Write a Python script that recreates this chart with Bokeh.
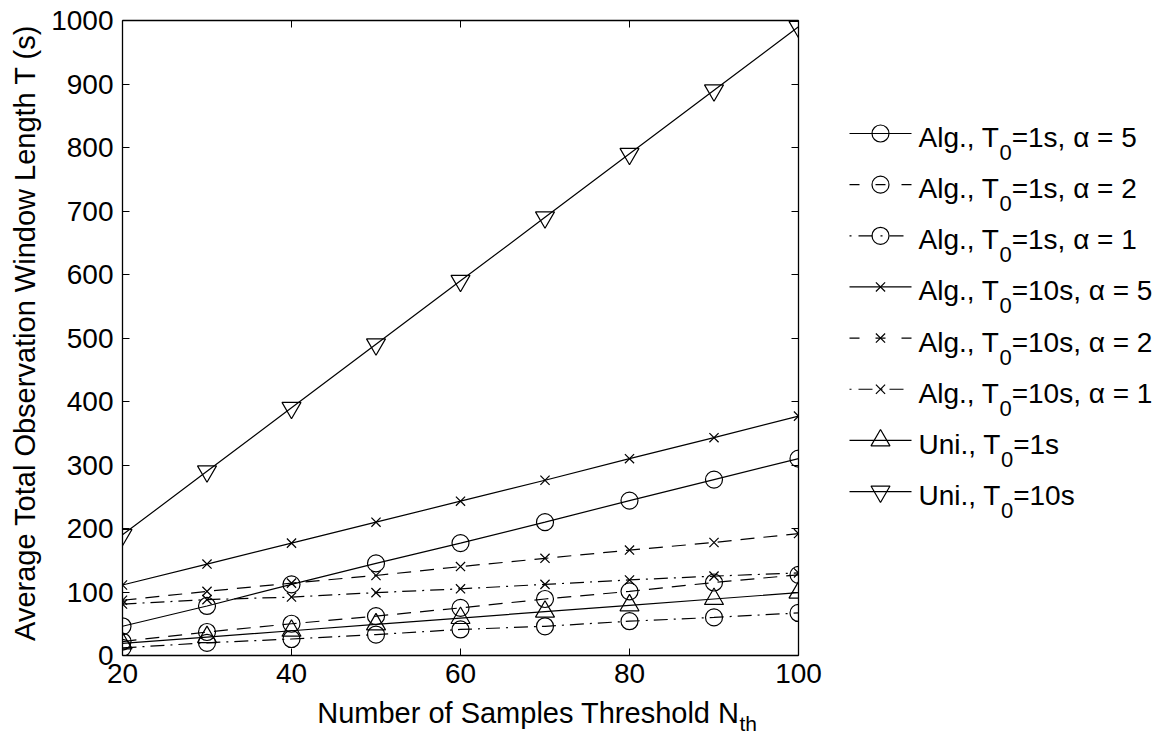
import math

from bokeh.core.properties import value
from bokeh.embed import file_html
from bokeh.layouts import column, row
from bokeh.models import FixedTicker, LinearAxis, Range1d
from bokeh.plotting import figure
from bokeh.resources import INLINE

# ---- data -------------------------------------------------------------
n_th = [20, 30, 40, 50, 60, 70, 80, 90, 100]

alg_t1_a5 = [46, 78, 112, 145, 177, 210, 244, 277, 310]
alg_t1_a2 = [22, 37, 50, 62, 75, 89, 101, 115, 127]
alg_t1_a1 = [12, 20, 26, 33, 41, 46, 54, 60, 67]
alg_t10_a5 = [111, 144, 177, 210, 243, 276, 310, 343, 377]
alg_t10_a2 = [87, 101, 114, 126, 140, 153, 166, 178, 192]
alg_t10_a1 = [81, 88, 92, 99, 105, 112, 119, 125, 130]
uni_t1 = [19, 29, 39, 49, 59, 69, 79, 89, 99]
uni_t10 = [190, 290, 390, 490, 590, 690, 790, 890, 990]

x_ticks = [20, 40, 60, 80, 100]
y_ticks = [0, 100, 200, 300, 400, 500, 600, 700, 800, 900, 1000]

x_label = ("Number of Samples Threshold N", "th")
y_label = "Average Total Observation Window Length T (s)"

# legend text: (before subscript, subscript, after subscript)
legend_text = [
    ("Alg., T", "0", "=1s, \u03b1 = 5"),
    ("Alg., T", "0", "=1s, \u03b1 = 2"),
    ("Alg., T", "0", "=1s, \u03b1 = 1"),
    ("Alg., T", "0", "=10s, \u03b1 = 5"),
    ("Alg., T", "0", "=10s, \u03b1 = 2"),
    ("Alg., T", "0", "=10s, \u03b1 = 1"),
    ("Uni., T", "0", "=1s"),
    ("Uni., T", "0", "=10s"),
]
series_values = [alg_t1_a5, alg_t1_a2, alg_t1_a1, alg_t10_a5,
                 alg_t10_a2, alg_t10_a1, uni_t1, uni_t10]

# ---- styles -----------------------------------------------------------
FONT = "Liberation Sans"
LW = 1.2
DASHED, DASHDOT = "14 9", "14 6 2 6"
LEG_DASHED, LEG_DASHDOT = "10 16", "2 7 14 8"
styles = [  # (plot dash, legend dash, marker, size)
    ("solid", "solid", "circle", 17),
    (DASHED, LEG_DASHED, "circle", 17),
    (DASHDOT, LEG_DASHDOT, "circle", 17),
    ("solid", "solid", "x", 13),
    (DASHED, LEG_DASHED, "x", 13),
    (DASHDOT, LEG_DASHDOT, "x", 13),
    ("solid", "solid", "triangle", 19),
    ("solid", "solid", "inverted_triangle", 19),
]

# Helvetica/Arial advance widths (1/1000 em), used to place subscripts
ADV = {" ": 278, "(": 333, ")": 333, ",": 278, ".": 278, "=": 584,
       "A": 667, "L": 556, "N": 722, "O": 778, "S": 667, "T": 611,
       "U": 722, "W": 944, "a": 556, "b": 556, "d": 556, "e": 556,
       "f": 278, "g": 556, "h": 556, "i": 222, "l": 222, "m": 833,
       "n": 556, "o": 556, "p": 556, "r": 333, "s": 500, "t": 278,
       "u": 556, "v": 500, "w": 722}


def text_width(s, size):
    return sum(ADV.get(c, 556) for c in s) * size / 1000.0


def blank_panel(width, height, xr, yr):
    """A bare figure whose data coordinates are page pixels."""
    f = figure(frame_width=width, frame_height=height, min_border=0,
               x_range=Range1d(*xr), y_range=Range1d(*yr),
               x_axis_type=None, y_axis_type=None,
               output_backend="svg", toolbar_location=None)
    f.outline_line_color = None
    f.background_fill_color = "white"
    f.border_fill_color = "white"
    return f


# ---- main plot --------------------------------------------------------
p = figure(frame_width=676, frame_height=635,
           min_border_left=77, min_border_right=32,
           min_border_top=20, min_border_bottom=42,
           x_range=Range1d(20, 100), y_range=Range1d(0, 1000),
           output_backend="svg", toolbar_location=None)
p.grid.visible = False
p.outline_line_color = None
p.background_fill_color = "white"
p.border_fill_color = "white"

p.xaxis.ticker = FixedTicker(ticks=x_ticks)
p.yaxis.ticker = FixedTicker(ticks=y_ticks)
p.xaxis.major_label_standoff = 8
p.yaxis.major_label_standoff = 9
for ax in (p.xaxis[0], p.yaxis[0]):
    ax.major_tick_in = 7
    ax.major_tick_out = 0
    ax.minor_tick_in = 0
    ax.minor_tick_out = 0
    ax.axis_line_width = 1.3
    ax.major_tick_line_width = 1
    ax.major_label_text_font = FONT
    ax.major_label_text_font_size = "28px"
    ax.major_label_text_color = "black"

# box axes on top and right, ticks only
for ticks, side in ((x_ticks, "above"), (y_ticks, "right")):
    ax = LinearAxis(ticker=FixedTicker(ticks=ticks),
                    major_label_overrides={t: "" for t in ticks},
                    major_label_text_font_size="1px",
                    major_label_standoff=0,
                    major_tick_in=7, major_tick_out=0,
                    minor_tick_in=0, minor_tick_out=0,
                    axis_line_width=1.3)
    p.add_layout(ax, side)

for vals, (dash, _, marker, size) in zip(series_values, styles):
    p.line(n_th, vals, line_color="black", line_width=LW, line_dash=dash)
    p.scatter(n_th, vals, marker=marker, size=size, fill_color=None,
              line_color="black", line_width=LW)

# ---- axis titles (page-pixel panels) -------------------------------------
yl = blank_panel(45, 735, (0, 45), (735, 0))
yl.text(x=[24], y=[332], text=[y_label], angle=math.pi / 2,
        text_font=value(FONT), text_font_size=value("29px"),
        text_align="center", text_baseline="middle", text_color="black")

xl = blank_panel(785, 38, (45, 830), (735, 697))
xl_main_w = text_width(x_label[0], 29)
xl_left = 460 - (xl_main_w + text_width(x_label[1], 22)) / 2
xl.text(x=[xl_left], y=[712], text=[x_label[0]],
        text_font=value(FONT), text_font_size=value("29px"),
        text_align="left", text_baseline="alphabetic", text_color="black")
xl.text(x=[xl_left + xl_main_w], y=[723], text=[x_label[1]],
        text_font=value(FONT), text_font_size=value("21px"),
        text_align="left", text_baseline="alphabetic", text_color="black")

# ---- legend panel --------------------------------------------------------
leg = blank_panel(335, 735, (830, 1165), (735, 0))
row_y = [133 + 51.15 * i for i in range(len(legend_text))]
for y, (before, sub, after), (_, ldash, marker, size) in zip(row_y, legend_text, styles):
    leg.line([849, 911], [y, y], line_color="black", line_width=LW, line_dash=ldash)
    leg.scatter([880], [y], marker=marker, size=size, fill_color=None,
                line_color="black", line_width=LW)
    x_sub = 918 + text_width(before, 28)
    x_after = x_sub + text_width(sub, 22)
    leg.text(x=[918, x_after], y=[y + 4, y + 4], text=[before, after],
             text_font=value(FONT), text_font_size=value("28px"),
             text_align="left", text_baseline="alphabetic", text_color="black")
    leg.text(x=[x_sub], y=[y + 19], text=[sub],
             text_font=value(FONT), text_font_size=value("22px"),
             text_align="left", text_baseline="alphabetic", text_color="black")

layout = row(yl, column(p, xl), leg)
open("out.html", "w").write(file_html(layout, INLINE))
